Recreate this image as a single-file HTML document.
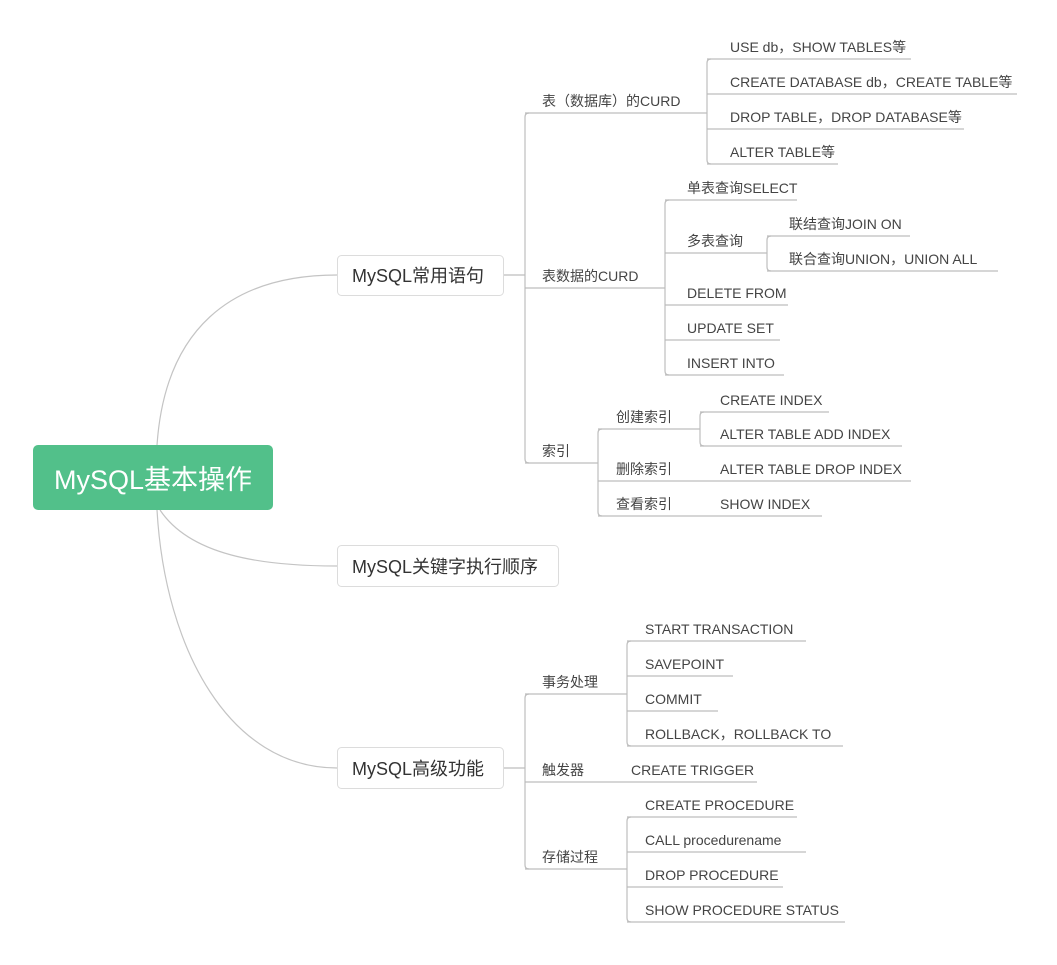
<!DOCTYPE html>
<html><head><meta charset="utf-8"><style>
body{margin:0;background:#fff;width:1057px;height:960px;overflow:hidden}
svg text{font-family:"Liberation Sans","Noto Sans CJK SC",sans-serif;fill:#444;font-size:14px}
</style></head><body>
<svg width="1057" height="960" viewBox="0 0 1057 960" xmlns="http://www.w3.org/2000/svg">
<g fill="none" stroke="#c4c4c4" stroke-width="1.2">
<path d="M157,445 C165,330 230,275 337,275"/>
<path d="M160,510 C190,555 260,566 337,566"/>
<path d="M157,510 C165,650 230,768 337,768"/>
</g>
<g fill="none" stroke="#bdbdbd" stroke-width="1.2">
<path d="M504,275 H525"/>
<path d="M529,113 Q525,113 525,117 V459 Q525,463 529,463"/>
<path d="M525,113 H707"/>
<path d="M711,59 Q707,59 707,63 V160 Q707,164 711,164"/>
<path d="M707,59 H911 M707,94 H1017 M707,129 H964 M707,164 H838"/>
<path d="M525,288 H665"/>
<path d="M669,200 Q665,200 665,204 V371 Q665,375 669,375"/>
<path d="M665,200 H797 M665,253 H767 M665,305 H788 M665,340 H780 M665,375 H784"/>
<path d="M771,236 Q767,236 767,240 V267 Q767,271 771,271"/>
<path d="M767,236 H910 M767,271 H998"/>
<path d="M525,463 H598"/>
<path d="M602,429 Q598,429 598,433 V512 Q598,516 602,516"/>
<path d="M598,429 H700 M598,481 H911 M598,516 H822"/>
<path d="M704,412 Q700,412 700,416 V442 Q700,446 704,446"/>
<path d="M700,412 H829 M700,446 H902"/>
<path d="M504,768 H525"/>
<path d="M529,694 Q525,694 525,698 V865 Q525,869 529,869"/>
<path d="M525,694 H627 M525,782 H757 M525,869 H627"/>
<path d="M631,641 Q627,641 627,645 V742 Q627,746 631,746"/>
<path d="M627,641 H806 M627,676 H733 M627,711 H718 M627,746 H843"/>
<path d="M631,817 Q627,817 627,821 V918 Q627,922 631,922"/>
<path d="M627,817 H797 M627,852 H806 M627,887 H783 M627,922 H845"/>
</g>
<rect x="33" y="445" width="240" height="65" rx="5" fill="#52c08a"/>
<text x="153" y="489" text-anchor="middle" style="font-size:27px;fill:#fff">MySQL基本操作</text>
<rect x="337.5" y="255.5" width="166" height="40" rx="4" fill="#fff" stroke="#dcdcdc"/>
<text x="352" y="282" style="font-size:18px;fill:#333">MySQL常用语句</text>
<rect x="337.5" y="545.5" width="221" height="41" rx="4" fill="#fff" stroke="#dcdcdc"/>
<text x="352" y="573" style="font-size:18px;fill:#333">MySQL关键字执行顺序</text>
<rect x="337.5" y="747.5" width="166" height="41" rx="4" fill="#fff" stroke="#dcdcdc"/>
<text x="352" y="775" style="font-size:18px;fill:#333">MySQL高级功能</text>
<text x="542" y="106">表（数据库）的CURD</text>
<text x="730" y="52">USE db，SHOW TABLES等</text>
<text x="730" y="87">CREATE DATABASE db，CREATE TABLE等</text>
<text x="730" y="122">DROP TABLE，DROP DATABASE等</text>
<text x="730" y="157">ALTER TABLE等</text>
<text x="542" y="281">表数据的CURD</text>
<text x="687" y="193">单表查询SELECT</text>
<text x="687" y="246">多表查询</text>
<text x="789" y="229">联结查询JOIN ON</text>
<text x="789" y="264">联合查询UNION，UNION ALL</text>
<text x="687" y="298">DELETE FROM</text>
<text x="687" y="333">UPDATE SET</text>
<text x="687" y="368">INSERT INTO</text>
<text x="542" y="456">索引</text>
<text x="616" y="422">创建索引</text>
<text x="720" y="405">CREATE INDEX</text>
<text x="720" y="439">ALTER TABLE ADD INDEX</text>
<text x="616" y="474">删除索引</text>
<text x="720" y="474">ALTER TABLE DROP INDEX</text>
<text x="616" y="509">查看索引</text>
<text x="720" y="509">SHOW INDEX</text>
<text x="542" y="687">事务处理</text>
<text x="645" y="634">START TRANSACTION</text>
<text x="645" y="669">SAVEPOINT</text>
<text x="645" y="704">COMMIT</text>
<text x="645" y="739">ROLLBACK，ROLLBACK TO</text>
<text x="542" y="775">触发器</text>
<text x="631" y="775">CREATE TRIGGER</text>
<text x="542" y="862">存储过程</text>
<text x="645" y="810">CREATE PROCEDURE</text>
<text x="645" y="845">CALL procedurename</text>
<text x="645" y="880">DROP PROCEDURE</text>
<text x="645" y="915">SHOW PROCEDURE STATUS</text>
</svg>
</body></html>
